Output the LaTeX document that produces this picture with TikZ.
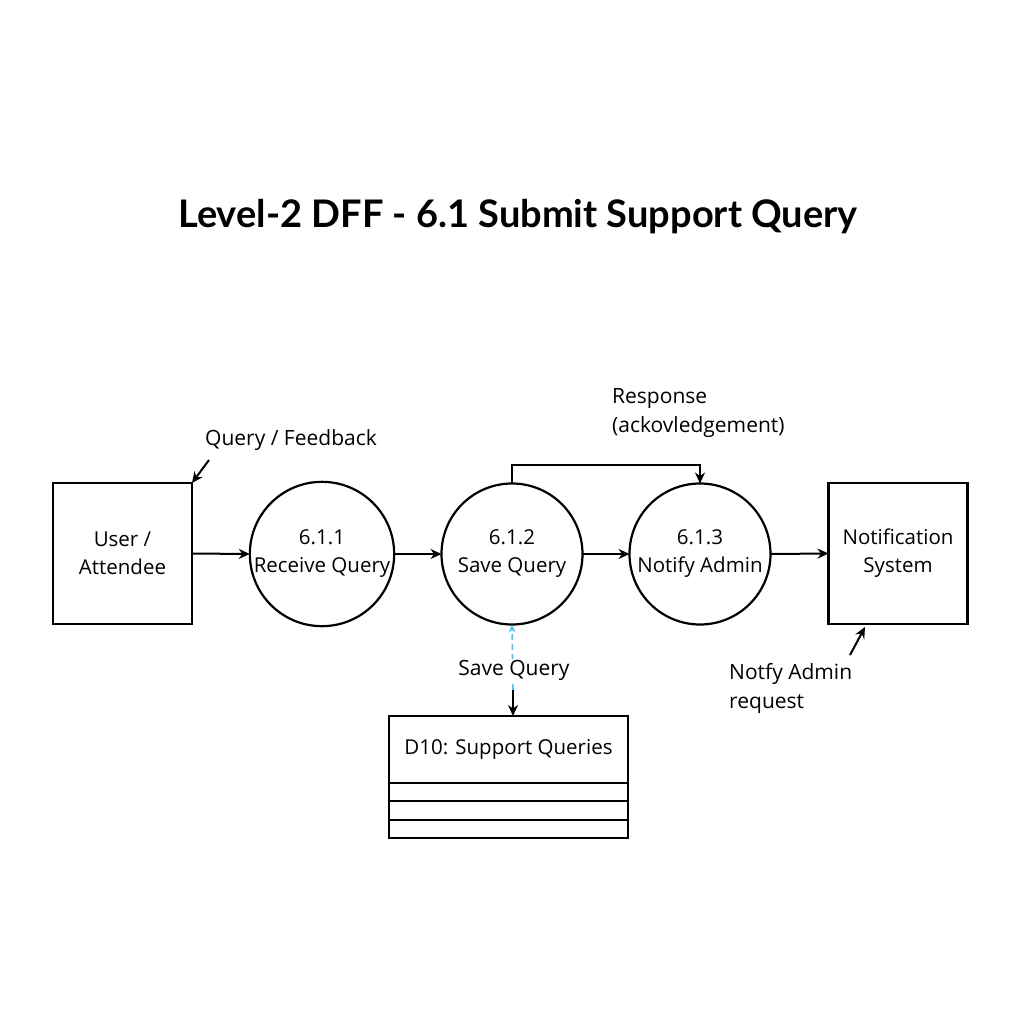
\documentclass[tikz,border=0pt]{standalone}
\usepackage{fontspec}
\setmainfont{Open Sans}
\newfontfamily\titlefont{Lato}
\usetikzlibrary{arrows.meta,calc}
\begin{document}
\begin{tikzpicture}[x=1pt,y=-1pt,
  lbl/.style={font=\fontsize{21}{29}\selectfont, inner sep=0pt},
  boxn/.style={draw, line width=2.2pt, outer sep=0pt, minimum width=139pt, minimum height=141pt, align=center, font=\fontsize{20.5}{28}\selectfont},
  proc/.style={draw, circle, line width=2.2pt, outer sep=0pt, minimum size=141pt, align=center, inner sep=0pt, font=\fontsize{20.5}{28}\selectfont},
  flow/.style={line width=2pt, -{Stealth[length=11pt,width=10pt]}},
  dflow/.style={line width=1.6pt, cyan!70!white, dash pattern=on 6pt off 4pt}
]
\useasboundingbox (0,0) rectangle (1024,1024);
\node[font=\titlefont\fontsize{38}{44}\selectfont\bfseries] (title) at (518,217) {Level-2 DFF - 6.1 Submit Support Query};

\node[boxn] (user) at (122.5,553.5) {User /\\Attendee};
\node[proc] (p1) at (322,554) {6.1.1\\Receive Query};
\node[proc] (p2) at (512,554) {6.1.2\\Save Query};
\node[proc] (p3) at (700,554) {6.1.3\\Notify Admin};
\node[boxn] (notif) at (898,553.5) {Notification\\System};

\draw[flow] (user.east) -- (p1.west);
\draw[flow] (p1.east) -- (p2.west);
\draw[flow] (p2.east) -- (p3.west);
\draw[flow] (p3.east) -- (notif.west);

\draw[flow] (p2.north) -- ++(0,-19) -| (p3.north);

\node[lbl, anchor=west, align=left] (resp) at (612,413) {Response\\(ackovledgement)};

\node[lbl, anchor=west] (qf) at (205,440) {Query / Feedback};
\coordinate (qfa) at (209,460);
\draw[flow] (qfa) -- (user.north east);

% data store
\node[draw, line width=2.2pt, outer sep=0pt, minimum width=239pt, minimum height=67pt, font=\fontsize{20.5}{25}\selectfont] (store) at (508.5,749.5) {D10: Support Queries};
\coordinate (s1) at ($(store.south west)+(0,18)$);
\coordinate (s2) at ($(store.south west)+(0,37)$);
\coordinate (s3) at ($(store.south west)+(0,55)$);
\draw[line width=2.2pt] (store.south west) -- (s3) -- (s3 -| store.south east) -- (store.south east);
\draw[line width=2.2pt] (s1) -- (s1 -| store.south east);
\draw[line width=2.2pt] (s2) -- (s2 -| store.south east);

\coordinate (mid) at (513,690);
\draw[dflow, -{Stealth[length=8pt,width=7pt]}] (mid) -- (p2.south);
\draw[flow] (mid) -- (store.north -| mid);
\node[lbl, fill=white, inner sep=1pt] (sq) at (514,670) {Save Query};

\node[lbl, anchor=west, align=left] (na) at (729,688) {Notfy Admin\\request};
\coordinate (naa) at (850,655);
\coordinate (nab) at (865,627);
\draw[flow] (naa) -- (nab);
\end{tikzpicture}
\end{document}
